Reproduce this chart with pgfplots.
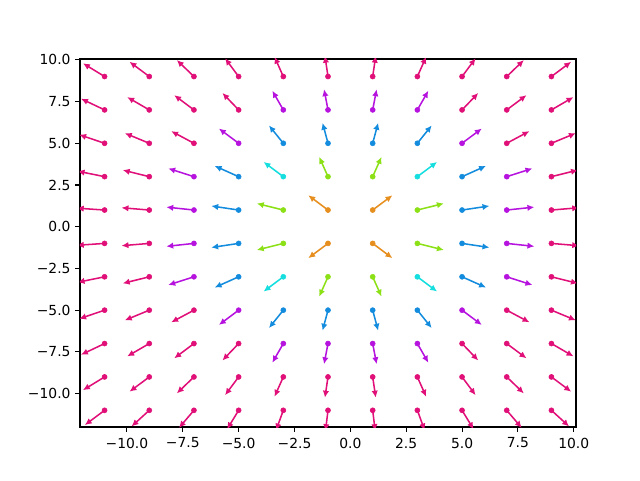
\documentclass[border=0pt]{standalone}
\usepackage{pgfplots}
\pgfplotsset{compat=1.18}
\usepackage{pgfplotstable}
\usetikzlibrary{arrows.meta}
\usepackage{fontspec}
\setmainfont{DejaVu Sans}

\definecolor{cOrange}{RGB}{230,142,30}
\definecolor{cGreen}{RGB}{140,224,22}
\definecolor{cCyan}{RGB}{22,222,222}
\definecolor{cBlue}{RGB}{20,140,222}
\definecolor{cPurple}{RGB}{182,20,222}
\definecolor{cMagenta}{RGB}{224,16,120}

\pgfplotstableread{
x y u v
1 1 0.884 0.884
-1 1 -0.884 0.884
1 -1 0.884 -0.884
-1 -1 -0.884 -0.884
}\tOrange

\pgfplotstableread{
x y u v
1 3 0.395 1.186
-1 3 -0.395 1.186
1 -3 0.395 -1.186
-1 -3 -0.395 -1.186
3 1 1.186 0.395
-3 1 -1.186 0.395
3 -1 1.186 -0.395
-3 -1 -1.186 -0.395
}\tGreen

\pgfplotstableread{
x y u v
3 3 0.884 0.884
-3 3 -0.884 0.884
3 -3 0.884 -0.884
-3 -3 -0.884 -0.884
}\tCyan

\pgfplotstableread{
x y u v
1 5 0.245 1.226
-1 5 -0.245 1.226
1 -5 0.245 -1.226
-1 -5 -0.245 -1.226
5 1 1.226 0.245
-5 1 -1.226 0.245
5 -1 1.226 -0.245
-5 -1 -1.226 -0.245
3 5 0.643 1.072
-3 5 -0.643 1.072
3 -5 0.643 -1.072
-3 -5 -0.643 -1.072
5 3 1.072 0.643
-5 3 -1.072 0.643
5 -3 1.072 -0.643
-5 -3 -1.072 -0.643
}\tBlue

\pgfplotstableread{
x y u v
1 7 0.177 1.237
-1 7 -0.177 1.237
1 -7 0.177 -1.237
-1 -7 -0.177 -1.237
7 1 1.237 0.177
-7 1 -1.237 0.177
7 -1 1.237 -0.177
-7 -1 -1.237 -0.177
5 5 0.884 0.884
-5 5 -0.884 0.884
5 -5 0.884 -0.884
-5 -5 -0.884 -0.884
3 7 0.492 1.149
-3 7 -0.492 1.149
3 -7 0.492 -1.149
-3 -7 -0.492 -1.149
7 3 1.149 0.492
-7 3 -1.149 0.492
7 -3 1.149 -0.492
-7 -3 -1.149 -0.492
}\tPurple

\pgfplotstableread{
x y u v
-11 9 -0.967 0.792
-9 9 -0.884 0.884
-7 9 -0.767 0.987
-5 9 -0.607 1.093
-3 9 -0.395 1.186
-1 9 -0.138 1.242
1 9 0.138 1.242
3 9 0.395 1.186
5 9 0.607 1.093
7 9 0.767 0.987
9 9 0.884 0.884
-11 -9 -0.967 -0.792
-9 -9 -0.884 -0.884
-7 -9 -0.767 -0.987
-5 -9 -0.607 -1.093
-3 -9 -0.395 -1.186
-1 -9 -0.138 -1.242
1 -9 0.138 -1.242
3 -9 0.395 -1.186
5 -9 0.607 -1.093
7 -9 0.767 -0.987
9 -9 0.884 -0.884
-11 -11 -0.884 -0.884
-9 -11 -0.792 -0.967
-7 -11 -0.671 -1.055
-5 -11 -0.517 -1.138
-3 -11 -0.329 -1.206
-1 -11 -0.113 -1.245
1 -11 0.113 -1.245
3 -11 0.329 -1.206
5 -11 0.517 -1.138
7 -11 0.671 -1.055
9 -11 0.792 -0.967
-11 7 -1.055 0.671
-9 7 -0.987 0.767
-7 7 -0.884 0.884
-5 7 -0.727 1.017
5 7 0.727 1.017
7 7 0.884 0.884
9 7 0.987 0.767
-11 -7 -1.055 -0.671
-9 -7 -0.987 -0.767
-7 -7 -0.884 -0.884
-5 -7 -0.727 -1.017
5 -7 0.727 -1.017
7 -7 0.884 -0.884
9 -7 0.987 -0.767
-11 5 -1.138 0.517
-9 5 -1.093 0.607
-7 5 -1.017 0.727
7 5 1.017 0.727
9 5 1.093 0.607
-11 -5 -1.138 -0.517
-9 -5 -1.093 -0.607
-7 -5 -1.017 -0.727
7 -5 1.017 -0.727
9 -5 1.093 -0.607
-11 3 -1.206 0.329
-9 3 -1.186 0.395
9 3 1.186 0.395
-11 -3 -1.206 -0.329
-9 -3 -1.186 -0.395
9 -3 1.186 -0.395
-11 1 -1.245 0.113
-9 1 -1.242 0.138
9 1 1.242 0.138
-11 -1 -1.245 -0.113
-9 -1 -1.242 -0.138
9 -1 1.242 -0.138
}\tMagenta

\pgfplotsset{
  qv/.style={quiver={u=\thisrow{u},v=\thisrow{v}}, line width=1.15pt,
    -{Latex[length=5.2pt,width=4.8pt]}, color=#1},
  dots/.style={only marks, mark=*, mark size=1.9pt, color=#1},
}

\begin{document}
\begin{tikzpicture}
\useasboundingbox (-60pt,-39.75pt) rectangle (420pt,320.25pt);
\begin{axis}[
  at={(0,0)}, anchor=south west,
  scale only axis, width=372pt, height=276pt,
  xmin=-12.1, xmax=10.1, ymin=-12.0, ymax=10.05,
  tick pos=left, tick align=outside,
  major tick length=3.6pt,
  every tick/.style={black, line width=0.8pt},
  axis line style={line width=0.8pt},
  xtick={-10,-7.5,-5,-2.5,0,2.5,5,7.5,10},
  xticklabels={−10.0,−7.5,−5.0,−2.5,0.0,2.5,5.0,7.5,10.0},
  ytick={-10,-7.5,-5,-2.5,0,2.5,5,7.5,10},
  yticklabels={−10.0,−7.5,−5.0,−2.5,0.0,2.5,5.0,7.5,10.0},
  tick label style={font=\fontsize{10.4}{12}\selectfont},
  xticklabel style={yshift=-1pt},
]
\addplot[qv=cOrange] table {\tOrange};
\addplot[qv=cGreen] table {\tGreen};
\addplot[qv=cCyan] table {\tCyan};
\addplot[qv=cBlue] table {\tBlue};
\addplot[qv=cPurple] table {\tPurple};
\addplot[qv=cMagenta] table {\tMagenta};
\addplot[dots=cOrange] table {\tOrange};
\addplot[dots=cGreen] table {\tGreen};
\addplot[dots=cCyan] table {\tCyan};
\addplot[dots=cBlue] table {\tBlue};
\addplot[dots=cPurple] table {\tPurple};
\addplot[dots=cMagenta] table {\tMagenta};
\end{axis}
\end{tikzpicture}
\end{document}
